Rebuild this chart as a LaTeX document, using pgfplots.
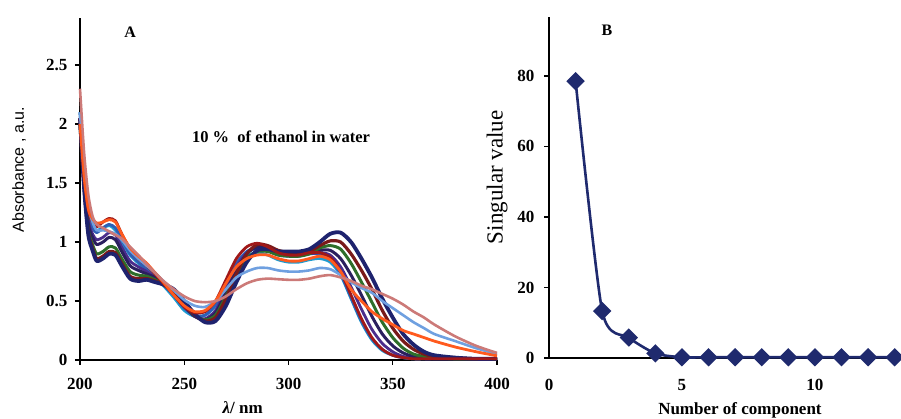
\documentclass[border=0pt]{standalone}
\usepackage{fontspec}
\setmainfont{Liberation Serif}
\newfontfamily\arialfont{Liberation Sans}
\usepackage{pgfplots}
\usepackage{pgfplotstable}
\pgfplotsset{compat=1.18}

\definecolor{cN}{HTML}{1E236E}
\definecolor{cM}{HTML}{7A1A1A}
\definecolor{cG}{HTML}{2E6E2A}
\definecolor{cD}{HTML}{2A1F5E}
\definecolor{cV}{HTML}{4B2D8C}
\definecolor{cB}{HTML}{2F5FB5}
\definecolor{cT}{HTML}{1E9BD0}
\definecolor{cR}{HTML}{A01818}
\definecolor{cO}{HTML}{FF5A1E}
\definecolor{cL}{HTML}{6FA0E0}
\definecolor{cP}{HTML}{CC7A78}
\definecolor{svd}{HTML}{1F2A6E}

% absorbance spectra
\pgfplotstableread{
wl  N    M    G     D     V     B    T    R    O     L    P
200 2.05 2.0  2.0   2.05  2.05  2.1  2.1  2.05 2.0   2.1  2.3
202 1.45 1.45 1.48  1.5   1.5   1.55 1.55 1.55 1.55  1.6  1.75
204 1.06 1.08 1.1   1.15  1.18  1.22 1.24 1.27 1.28  1.3  1.4
206 0.93 0.95 0.98  1.04  1.07  1.12 1.14 1.17 1.2   1.17 1.22
208 0.84 0.86 0.9   0.98  1.02  1.08 1.1  1.13 1.16  1.1  1.15
211 0.86 0.88 0.92  1.0   1.04  1.12 1.12 1.17 1.17  1.1  1.12
214 0.9  0.92 0.96  1.04  1.08  1.15 1.14 1.2  1.19  1.09 1.09
217 0.89 0.91 0.95  1.02  1.06  1.12 1.1  1.18 1.17  1.07 1.06
220 0.8  0.82 0.86  0.92  0.96  1.02 1.0  1.07 1.07  1.02 1.03
224 0.69 0.71 0.75  0.8   0.84  0.9  0.89 0.94 0.95  0.93 0.96
228 0.67 0.69 0.72  0.76  0.79  0.83 0.82 0.86 0.88  0.86 0.89
232 0.68 0.69 0.71  0.73  0.75  0.77 0.76 0.8  0.82  0.8  0.81
236 0.66 0.67 0.68  0.7   0.7   0.71 0.7  0.73 0.74  0.74 0.74
240 0.64 0.64 0.64  0.65  0.64  0.64 0.63 0.65 0.66  0.67 0.67
245 0.6  0.58 0.57  0.57  0.56  0.55 0.53 0.55 0.55  0.59 0.6
250 0.5  0.48 0.47  0.46  0.45  0.44 0.42 0.45 0.46  0.51 0.54
255 0.39 0.38 0.38  0.37  0.37  0.38 0.37 0.4  0.41  0.46 0.5
260 0.32 0.33 0.34  0.34  0.35  0.38 0.38 0.41 0.42  0.45 0.49
265 0.33 0.36 0.38  0.4   0.42  0.47 0.46 0.5  0.5   0.5  0.5
270 0.46 0.52 0.54  0.57  0.6   0.65 0.62 0.68 0.65  0.6  0.54
275 0.66 0.73 0.72  0.76  0.79  0.82 0.78 0.86 0.79  0.7  0.6
280 0.83 0.9  0.86  0.9   0.91  0.92 0.88 0.96 0.86  0.75 0.65
285 0.93 0.98 0.92  0.96  0.95  0.95 0.91 0.99 0.89  0.78 0.68
290 0.94 0.97 0.92  0.95  0.94  0.93 0.89 0.96 0.89  0.78 0.69
295 0.92 0.93 0.89  0.91  0.9   0.89 0.85 0.91 0.86  0.76 0.685
300 0.92 0.91 0.88  0.9   0.89  0.88 0.83 0.89 0.84  0.75 0.68
305 0.92 0.9  0.88  0.9   0.89  0.88 0.83 0.89 0.84  0.75 0.68
310 0.94 0.92 0.9   0.91  0.9   0.9  0.85 0.91 0.86  0.76 0.69
315 1.0  0.97 0.95  0.93  0.91  0.9  0.86 0.91 0.88  0.78 0.71
320 1.07 1.01 0.97  0.93  0.89  0.86 0.83 0.87 0.85  0.77 0.72
325 1.08 1.0  0.94  0.86  0.79  0.73 0.72 0.75 0.75  0.72 0.7
330 1.0  0.9  0.82  0.72  0.62  0.53 0.52 0.55 0.6   0.66 0.67
335 0.86 0.76 0.66  0.55  0.43  0.33 0.32 0.35 0.5   0.61 0.63
340 0.7  0.6  0.49  0.37  0.26  0.18 0.17 0.19 0.41  0.57 0.6
345 0.52 0.42 0.32  0.22  0.14  0.09 0.08 0.09 0.35  0.5  0.56
350 0.36 0.27 0.19  0.12  0.07  0.04 0.04 0.04 0.3   0.44 0.52
355 0.22 0.16 0.1   0.06  0.03  0.02 0.02 0.02 0.25  0.38 0.47
360 0.13 0.09 0.05  0.03  0.02  0.01 0.01 0.01 0.22  0.32 0.41
365 0.07 0.05 0.03  0.02  0.01  0.01 0.01 0.01 0.19  0.27 0.36
370 0.04 0.03 0.02  0.01  0.01  0.01 0.01 0.01 0.16  0.22 0.3
380 0.02 0.02 0.01  0.01  0.01  0.01 0.01 0.01 0.11  0.16 0.2
390 0.01 0.01 0.01  0.01  0.01  0.01 0.01 0.01 0.07  0.1  0.12
400 0.01 0.01 0.01  0.01  0.01  0.01 0.01 0.01 0.035 0.05 0.06
}\spectra

\begin{document}
\begin{tikzpicture}[x=1pt,y=1pt]
\useasboundingbox (0,0) rectangle (901,419);

% panel A
\begin{axis}[
    at={(80pt,59pt)}, anchor=south west,
    scale only axis, width=417pt, height=342pt,
    xmin=200, xmax=400, ymin=0, ymax=2.9,
    axis lines*=left,
    axis line style={line width=1.6pt, black},
    tick align=outside, major tick length=5pt,
    tick style={line width=1.4pt, black},
    xtick={200,250,300,350,400},
    ytick={0,0.5,1,1.5,2,2.5},
    /pgf/number format/assume math mode=true,
    ticklabel style={font=\fontsize{17}{17}\selectfont\bfseries},
    xticklabel style={yshift=-10pt},
    yticklabel style={xshift=-4pt},
    xlabel={\textbf{\textit{λ}/ nm}},
    x label style={at={(axis description cs:0.39,0)}, anchor=center, yshift=-48pt,
        font=\fontsize{17}{17}\selectfont},
    ylabel={Absorbance , a.u.},
    y label style={at={(axis description cs:0,0.556)}, anchor=center, yshift=61pt,
        font=\arialfont\fontsize{16}{16}\selectfont},
    clip=false,
    every axis plot/.append style={smooth, tension=0.45, line join=round},
]
\addplot[cT, line width=2.8pt] table[x=wl, y=T] {\spectra};
\addplot[cB, line width=2.8pt] table[x=wl, y=B] {\spectra};
\addplot[cV, line width=2.8pt] table[x=wl, y=V] {\spectra};
\addplot[cD, line width=3.0pt] table[x=wl, y=D] {\spectra};
\addplot[cG, line width=3.0pt] table[x=wl, y=G] {\spectra};
\addplot[cM, line width=3.2pt] table[x=wl, y=M] {\spectra};
\addplot[cN, line width=3.8pt] table[x=wl, y=N] {\spectra};
\addplot[cR, line width=2.8pt] table[x=wl, y=R] {\spectra};
\addplot[cL, line width=2.6pt] table[x=wl, y=L] {\spectra};
\addplot[cO, line width=2.8pt] table[x=wl, y=O] {\spectra};
\addplot[cP, line width=2.6pt] table[x=wl, y=P] {\spectra};
\node[font=\fontsize{16}{16}\selectfont\bfseries] at (axis cs:224,2.78) {A};
\node[font=\fontsize{16.5}{16.5}\selectfont\bfseries] at (axis cs:296.4,1.89) {10 \%\ \ of ethanol in water};
\end{axis}

% panel B
\begin{axis}[
    at={(549pt,61pt)}, anchor=south west,
    scale only axis, width=351pt, height=341pt,
    xmin=0, xmax=13.2, ymin=0, ymax=96.7,
    axis lines*=left,
    axis line style={line width=1.6pt, black},
    tick align=outside, major tick length=5pt,
    y tick style={line width=1.4pt, black},
    x tick style={draw=none},
    xtick={0,5,10},
    ytick={0,20,40,60,80},
    /pgf/number format/assume math mode=true,
    ticklabel style={font=\fontsize{17}{17}\selectfont\bfseries},
    yticklabel style={xshift=-6pt},
    xticklabel style={yshift=-13pt},
    xlabel={\textbf{Number of component}},
    x label style={at={(axis description cs:0.544,0)}, anchor=center, yshift=-52pt,
        font=\fontsize{17}{17}\selectfont},
    ylabel={Singular value},
    y label style={at={(axis description cs:0,0.53)}, anchor=center, yshift=52pt,
        font=\fontsize{23}{23}\selectfont},
    clip=false,
]
\addplot[svd, line width=2.6pt, smooth, tension=0.4,
    mark=square*, mark size=5.2pt, mark options={rotate=45, solid}]
    coordinates {(1,78.5)(2,13.3)(3,5.8)(4,1.3)(5,0.2)(6,0.2)(7,0.2)(8,0.2)
                 (9,0.2)(10,0.2)(11,0.2)(12,0.2)(13,0.2)};
\node[font=\fontsize{16}{16}\selectfont\bfseries] at (axis cs:2.18,92.8) {B};
\end{axis}
\end{tikzpicture}
\end{document}
